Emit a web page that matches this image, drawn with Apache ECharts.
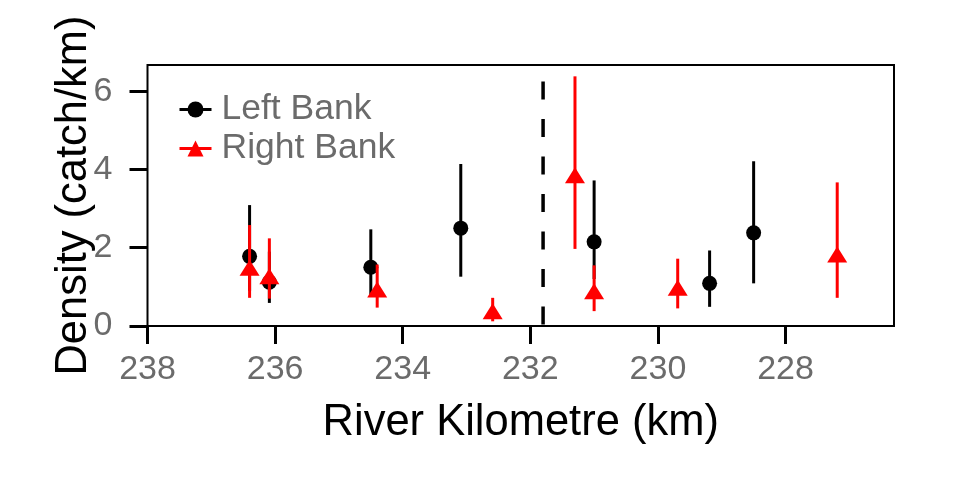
<!DOCTYPE html>
<html>
<head>
<meta charset="utf-8">
<script src="https://cdn.jsdelivr.net/npm/echarts@6/dist/echarts.min.js"></script>
<style>html,body{margin:0;padding:0;background:#fff}#c{width:960px;height:480px}</style>
</head>
<body>
<div id="c"></div>
<script>
// ---- data ----
const leftKm      = [236.40, 236.09, 234.50, 233.09, 231.00, 229.19, 228.50];
const leftDensity = [1.78, 1.12, 1.50, 2.50, 2.15, 1.09, 2.38];
const leftLower   = [0.90, 0.59, 0.80, 1.26, 1.20, 0.49, 1.09];
const leftUpper   = [3.09, 1.90, 2.47, 4.14, 3.72, 1.93, 4.21];

const rightKm      = [236.40, 236.09, 234.40, 232.59, 231.30, 231.00, 229.69, 227.19];
const rightDensity = [1.49, 1.27, 0.93, 0.38, 3.85, 0.89, 0.98, 1.83];
const rightLower   = [0.72, 0.70, 0.47, 0.12, 1.97, 0.38, 0.45, 0.72];
const rightUpper   = [2.58, 2.24, 1.57, 0.72, 6.38, 1.55, 1.72, 3.67];

const dividerKm = 231.8;
const dividerTop = 6.25;

const xTicks = [228, 230, 232, 234, 236, 238];
const yTicks = [0, 2, 4, 6];
const seriesNames = ['Left Bank', 'Right Bank'];

// ---- chart ----
const FONT = "'Liberation Sans', Arial, sans-serif";
const GREY = '#6b6b6b';

function errRender(color) {
  return function (params, api) {
    const x = api.value(0), lo = api.value(1), hi = api.value(2);
    const p1 = api.coord([x, lo]);
    const p2 = api.coord([x, hi]);
    return {
      type: 'line',
      shape: { x1: p1[0], y1: p1[1], x2: p2[0], y2: p2[1] },
      style: { stroke: color, lineWidth: 3, lineCap: 'butt' }
    };
  };
}

const leftErr = leftKm.map((k, i) => [k, leftLower[i], leftUpper[i]]);
const rightErr = rightKm.map((k, i) => [k, rightLower[i], rightUpper[i]]);
const leftPts = leftKm.map((k, i) => [k, leftDensity[i]]);
const rightPts = rightKm.map((k, i) => [k, rightDensity[i]]);

const chart = echarts.init(document.getElementById('c'), null, { renderer: 'canvas' });
chart.setOption({
  animation: false,
  textStyle: { fontFamily: FONT },
  grid: {
    left: 147.5, right: 66, top: 65, bottom: 154,
    show: true, borderColor: '#000', borderWidth: 2, backgroundColor: 'transparent'
  },
  legend: {
    orient: 'vertical',
    left: 173, top: 85,
    itemGap: 0,
    itemWidth: 32, itemHeight: 20,
    data: seriesNames,
    lineStyle: { width: 3, opacity: 1 },
    textStyle: { fontSize: 35.5, color: GREY, fontFamily: FONT, lineHeight: 39, padding: [0, 0, 0, 5] }
  },
  xAxis: {
    type: 'value', inverse: true, min: 226.3, max: 238,
    name: 'River Kilometre (km)', nameLocation: 'middle', nameGap: 75, nameMoveOverlap: false,
    nameTextStyle: { fontSize: 43.5, color: '#000', fontFamily: FONT },
    axisLine: { show: false },
    axisTick: { show: true, length: 18, lineStyle: { color: '#000', width: 3 }, customValues: xTicks },
    axisLabel: { fontSize: 34, color: GREY, margin: 27, customValues: xTicks, fontFamily: FONT },
    splitLine: { show: false }
  },
  yAxis: {
    type: 'value', min: 0, max: 6.67,
    name: 'Density (catch/km)', nameLocation: 'middle', nameGap: 52, nameMoveOverlap: false,
    nameTextStyle: { fontSize: 43.5, color: '#000', fontFamily: FONT },
    axisLine: { show: false },
    axisTick: { show: true, length: 18, lineStyle: { color: '#000', width: 3 }, customValues: yTicks },
    axisLabel: { fontSize: 34, color: GREY, margin: 35, customValues: yTicks, fontFamily: FONT },
    splitLine: { show: false }
  },
  series: [
    {
      type: 'custom', name: 'divider', z: 1, silent: true,
      renderItem: function (params, api) {
        const p1 = api.coord([api.value(0), api.value(1)]);
        const p2 = api.coord([api.value(0), api.value(2)]);
        return {
          type: 'line',
          shape: { x1: p1[0], y1: p1[1], x2: p2[0], y2: p2[1] },
          style: { stroke: '#000', lineWidth: 3.5, lineDash: [18, 19.5] }
        };
      },
      encode: { x: 0, y: [1, 2] },
      data: [[dividerKm, dividerTop, -0.2]],
      clip: true
    },
    {
      type: 'custom', name: 'Left Bank error', z: 2, silent: true,
      renderItem: errRender('#000'), encode: { x: 0, y: [1, 2] },
      data: leftErr, clip: true
    },
    {
      type: 'line', name: 'Left Bank', z: 3, data: leftPts,
      symbol: 'circle', symbolSize: 15, showSymbol: true,
      itemStyle: { color: '#000' }, lineStyle: { opacity: 0, width: 3, color: '#000' },
      emphasis: { disabled: true }, silent: true
    },
    {
      type: 'custom', name: 'Right Bank error', z: 4, silent: true,
      renderItem: errRender('#ff0000'), encode: { x: 0, y: [1, 2] },
      data: rightErr, clip: true
    },
    {
      type: 'line', name: 'Right Bank', z: 5, data: rightPts,
      symbol: 'triangle', symbolSize: [20, 16], showSymbol: true,
      itemStyle: { color: '#ff0000' }, lineStyle: { opacity: 0, width: 3, color: '#ff0000' },
      emphasis: { disabled: true }, silent: true
    }
  ]
});
</script>
</body>
</html>
